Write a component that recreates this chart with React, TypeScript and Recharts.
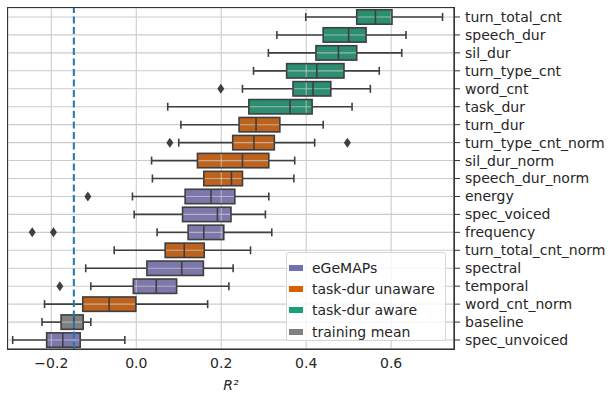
import { ComposedChart, Bar, XAxis, YAxis, CartesianGrid, ReferenceLine } from "recharts";

// feature sets, top to bottom
const categories = [
  "turn_total_cnt", "speech_dur", "sil_dur", "turn_type_cnt", "word_cnt", "task_dur",
  "turn_dur", "turn_type_cnt_norm", "sil_dur_norm", "speech_dur_norm",
  "energy", "spec_voiced", "frequency", "turn_total_cnt_norm", "spectral", "temporal",
  "word_cnt_norm", "baseline", "spec_unvoiced",
];
const groupOf = [
  "aware", "aware", "aware", "aware", "aware", "aware",
  "unaware", "unaware", "unaware", "unaware",
  "egemaps", "egemaps", "egemaps", "unaware", "egemaps", "egemaps",
  "unaware", "mean", "egemaps",
];

const whiskerLo = [0.399, 0.331, 0.311, 0.276, 0.25, 0.074, 0.105, 0.1, 0.036, 0.038, -0.009, -0.005, 0.049, -0.052, -0.119, -0.107, -0.216, -0.222, -0.291];
const q1 = [0.519, 0.44, 0.423, 0.354, 0.369, 0.265, 0.242, 0.227, 0.144, 0.159, 0.115, 0.109, 0.122, 0.068, 0.025, -0.007, -0.126, -0.177, -0.211];
const median = [0.563, 0.5, 0.476, 0.425, 0.416, 0.362, 0.282, 0.277, 0.25, 0.224, 0.176, 0.191, 0.159, 0.113, 0.107, 0.047, -0.064, -0.147, -0.173];
const q3 = [0.602, 0.541, 0.519, 0.489, 0.458, 0.414, 0.338, 0.325, 0.312, 0.25, 0.232, 0.223, 0.206, 0.16, 0.158, 0.095, -0.001, -0.125, -0.132];
const whiskerHi = [0.721, 0.635, 0.625, 0.572, 0.551, 0.508, 0.44, 0.42, 0.373, 0.371, 0.312, 0.304, 0.319, 0.269, 0.228, 0.218, 0.168, -0.107, -0.027];
const outliers: number[][] = [
  [], [], [], [], [0.199], [], [], [0.079, 0.497], [], [],
  [-0.114], [], [-0.245, -0.195], [], [], [-0.18], [], [], [],
];

const xTicks = [-0.2, 0, 0.2, 0.4, 0.6];
const xDomain = [-0.302, 0.748];
const baselineMean = -0.147;

const legendItems = [
  { key: "egemaps", label: "eGeMAPs" },
  { key: "unaware", label: "task-dur unaware" },
  { key: "aware", label: "task-dur aware" },
  { key: "mean", label: "training mean" },
];

const patchColor: Record<string, string> = {
  egemaps: "#7570b3",
  unaware: "#d95f02",
  aware: "#1b9e77",
  mean: "#808080",
};
const boxColor: Record<string, string> = {
  egemaps: "#7c78ab",
  unaware: "#be631d",
  aware: "#2b8e70",
  mean: "#808080",
};

const data = categories.map((name, i) => ({
  name,
  group: groupOf[i],
  lo: whiskerLo[i],
  q1: q1[i],
  med: median[i],
  q3: q3[i],
  hi: whiskerHi[i],
  out: outliers[i],
}));

const EDGE = "#3f3f3f";
const GRID = "#cccccc";
const FONT = "DejaVu Sans, sans-serif";

function BoxShape(props: any) {
  const { x, y, width, height, payload } = props;
  if (!payload) return null;
  const px = (v: number) => x + ((v - payload.lo) / (payload.hi - payload.lo)) * width;
  const cy = y + height / 2;
  const h = 14.4;
  const top = cy - h / 2;
  const bx1 = px(payload.q1);
  const bx2 = px(payload.q3);
  return (
    <g>
      <line x1={px(payload.lo)} x2={bx1} y1={cy} y2={cy} stroke={EDGE} strokeWidth={1.6} />
      <line x1={bx2} x2={px(payload.hi)} y1={cy} y2={cy} stroke={EDGE} strokeWidth={1.6} />
      <line x1={px(payload.lo)} x2={px(payload.lo)} y1={cy - 4} y2={cy + 4} stroke={EDGE} strokeWidth={1.6} />
      <line x1={px(payload.hi)} x2={px(payload.hi)} y1={cy - 4} y2={cy + 4} stroke={EDGE} strokeWidth={1.6} />
      <rect x={bx1} y={top} width={bx2 - bx1} height={h} fill={boxColor[payload.group]} />
      {/* grid shows through the boxes in the original */}
      <line x1={bx1} x2={bx2} y1={cy} y2={cy} stroke={GRID} strokeOpacity={0.7} strokeWidth={1.1} />
      {xTicks
        .filter((t) => t > payload.q1 && t < payload.q3)
        .map((t) => (
          <line key={t} x1={px(t)} x2={px(t)} y1={top} y2={top + h} stroke={GRID} strokeOpacity={0.7} strokeWidth={1.1} />
        ))}
      <rect x={bx1} y={top} width={bx2 - bx1} height={h} fill="none" stroke={EDGE} strokeWidth={1.6} />
      <line x1={px(payload.med)} x2={px(payload.med)} y1={top} y2={top + h} stroke={EDGE} strokeWidth={1.6} />
      {payload.out.map((v: number, k: number) => {
        const ox = px(v);
        return (
          <path
            key={k}
            d={`M${ox},${cy - 5} L${ox + 3.5},${cy} L${ox},${cy + 5} L${ox - 3.5},${cy} Z`}
            fill={EDGE}
          />
        );
      })}
    </g>
  );
}

const fmtTick = (v: number) => (v < 0 ? "\u2212" + Math.abs(v).toFixed(1) : v.toFixed(1));

export default function App() {
  return (
    <div style={{ position: "absolute", left: 0, top: 0, width: 614, height: 394, fontFamily: FONT }}>
      <ComposedChart
        width={614}
        height={394}
        data={data}
        layout="vertical"
        margin={{ top: 8, right: 0, bottom: 0, left: 8 }}
      >
        <CartesianGrid stroke={GRID} strokeWidth={1.1} />
        <XAxis
          type="number"
          domain={xDomain}
          ticks={xTicks}
          tickFormatter={fmtTick}
          allowDataOverflow
          height={45}
          tickLine={false}
          tickSize={6}
          tickMargin={3}
          axisLine={{ stroke: "#333", strokeWidth: 1.2 }}
          tick={{ fontSize: 14, fill: "#262626", fontFamily: FONT }}
          label={{
            value: "R²",
            position: "insideBottom",
            offset: 4,
            fontSize: 14,
            fontStyle: "italic",
            fill: "#262626",
            fontFamily: FONT,
          }}
        />
        <YAxis
          type="category"
          dataKey="name"
          orientation="right"
          width={160}
          interval={0}
          tickSize={6}
          tickMargin={5}
          tickLine={{ stroke: "#333" }}
          axisLine={{ stroke: "#333", strokeWidth: 1.2 }}
          tick={{ fontSize: 14, fill: "#262626", fontFamily: FONT, textAnchor: "start" }}
        />
        <Bar dataKey={(d: any) => [d.lo, d.hi]} barSize={14} shape={<BoxShape />} isAnimationActive={false} />
        <ReferenceLine x={baselineMean} stroke="#1f77b4" strokeWidth={2} strokeDasharray="7 3.5" />
      </ComposedChart>
      {/* plot frame (top and left spines) */}
      <div
        style={{
          position: "absolute",
          left: 7.4,
          top: 7.4,
          width: 446,
          height: 341,
          border: "1.2px solid #333",
          pointerEvents: "none",
        }}
      />
      <div
        style={{
          position: "absolute",
          left: 286,
          top: 252,
          width: 160,
          height: 89,
          boxSizing: "border-box",
          background: "rgba(255,255,255,0.8)",
          border: "1px solid #d6d6d6",
          borderRadius: 3,
          paddingTop: 4,
        }}
      >
        {legendItems.map((it) => (
          <div key={it.key} style={{ display: "flex", alignItems: "center", height: 21.3, fontSize: 14, color: "#262626" }}>
            <span style={{ display: "inline-block", width: 14, height: 6, marginLeft: 2, marginRight: 9, background: patchColor[it.key] }} />
            <span>{it.label}</span>
          </div>
        ))}
      </div>
    </div>
  );
}
